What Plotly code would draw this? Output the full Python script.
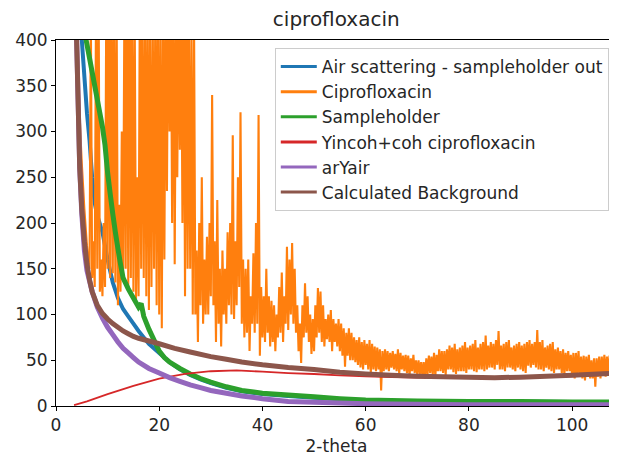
import numpy as np
import plotly.graph_objects as go

# measured ciprofloxacin pattern, 0.25 deg steps from 2-theta = 4.0 (one row = 5 deg)
cipro_start = 4.0
cipro_step = 0.25
cipro_y = [
    460, 390, 330, 295, 265, 240, 215, 195, 175, 160, 150, 430, 140, 180, 130, 440, 150, 460, 125, 160,
    120, 200, 130, 460, 150, 470, 140, 455, 145, 450, 135, 430, 110, 220, 125, 300, 140, 440, 150, 480,
    130, 470, 140, 450, 125, 430, 115, 250, 120, 470, 150, 440, 140, 430, 120, 460, 105, 430, 130, 420,
    150, 450, 110, 460, 100, 430, 85, 440, 160, 460, 235, 480, 300, 460, 200, 470, 155, 430, 250, 440,
    280, 460, 200, 470, 120, 490, 150, 430, 150, 410, 100, 420, 100, 170, 70, 200, 110, 250, 90, 160,
    100, 185, 100, 200, 120, 340, 110, 180, 70, 225, 90, 150, 65, 170, 100, 150, 90, 190, 110, 200,
    100, 296, 95, 180, 110, 250, 130, 321, 90, 160, 75, 150, 80, 160, 60, 120, 90, 167, 80, 200,
    90, 318, 55, 130, 75, 120, 70, 150, 80, 120, 65, 115, 70, 110, 60, 100, 75, 130, 80, 146,
    70, 120, 90, 174, 83, 160, 100, 178, 90, 150, 80, 110, 60, 90, 47, 110, 75, 134, 80, 120,
    70, 100, 57, 95, 60, 110, 75, 129, 80, 125, 70, 110, 65, 95, 73, 100, 70, 105, 60, 95,
    70, 90, 65, 95, 60, 90, 55, 85, 43, 80, 55, 85, 50, 80, 50, 75, 48, 72, 45, 75,
    42, 70, 40, 72, 45, 68, 40, 72, 36, 68, 40, 65, 38, 64, 40, 62, 17, 60, 38, 62,
    40, 60, 38, 58, 42, 60, 40, 57, 38, 62, 35, 58, 40, 55, 38, 56, 36, 55, 33, 52,
    38, 56, 36, 50, 34, 50, 35, 48, 32, 48, 30, 52, 35, 55, 36, 54, 34, 58, 32, 56,
    38, 62, 38, 60, 36, 60, 34, 62, 40, 66, 40, 64, 37, 68, 35, 62, 38, 64, 38, 66,
    38, 70, 36, 64, 40, 66, 40, 68, 38, 72, 37, 64, 40, 68, 40, 70, 38, 77, 40, 66,
    42, 70, 42, 68, 40, 72, 45, 82, 40, 66, 40, 68, 38, 70, 42, 72, 42, 64, 40, 66,
    38, 68, 42, 70, 40, 66, 38, 68, 36, 70, 44, 72, 42, 68, 45, 70, 42, 83, 40, 70,
    40, 72, 38, 64, 42, 66, 40, 68, 38, 70, 36, 62, 40, 64, 40, 60, 36, 62, 34, 58,
    38, 60, 38, 56, 32, 58, 30, 58, 34, 60, 32, 54, 30, 55, 28, 54, 32, 56, 30, 50,
    30, 52, 21, 52, 32, 54, 30, 54, 34, 56, 32, 54, 36, 55, 34, 56, 38, 58, 36, 54,
    40, 56, 38, 52, 55,
]
cipro_x = cipro_start + cipro_step * np.arange(len(cipro_y))

air_x = [4.8, 5.0, 5.5, 6.0, 6.5, 7.0, 7.5, 8.0, 9.0, 10, 11, 12, 13, 14, 15, 16, 17, 18,
         20, 22, 24, 26, 28, 30, 33, 36, 40, 45, 50, 60, 70, 80, 90, 100, 110]
air_y = [420, 400, 360, 320, 290, 250, 222, 208, 190, 160, 135, 118, 106, 98, 90, 82, 75, 68,
         58, 48, 40, 34, 29, 25, 20, 16, 13, 11, 9, 6, 5, 4.8, 4.6, 4.5, 4.5]

holder_x = [5.3, 5.5, 6.0, 7.0, 8.0, 9.0, 9.5, 10, 10.5, 11, 11.5, 12, 12.5, 13, 14, 15, 16, 16.5,
            17, 18, 19, 20, 21, 22, 24, 26, 28, 30, 33, 36, 40, 45, 50, 55, 60, 70, 80, 90, 100, 110]
holder_y = [420, 410, 395, 365, 335, 305, 285, 255, 232, 210, 190, 172, 155, 140, 128, 118, 108, 112,
            98, 84, 72, 60, 53, 48, 41, 35, 30, 26, 21, 17, 14, 12, 10, 8, 6.5, 5.5, 5, 4.8, 4.5, 4.5]

incoh_x = [3.5, 6, 10, 15, 20, 25, 30, 35, 40, 45, 50, 55, 60, 65, 70, 80, 90, 100, 110]
incoh_y = [1, 5, 13, 22, 30, 35, 38, 39, 37.5, 36, 35, 33.5, 32.5, 31.5, 31, 30.5, 31, 32.5, 35]

aryair_x = [3.9, 4.0, 4.3, 4.6, 5.0, 5.5, 6.0, 7.0, 8.0, 9.0, 10, 11, 12, 13, 14, 15, 16, 18,
            20, 22, 24, 26, 28, 30, 33, 36, 40, 45, 50, 60, 70, 80, 90, 100, 110]
aryair_y = [420, 400, 330, 260, 210, 170, 148, 125, 108, 96, 86, 78, 70, 63, 58, 53, 48, 41,
            36, 31, 27, 23, 20, 17, 14, 11, 8, 5, 4, 2.5, 2, 1.5, 1.5, 1.5, 1.5]

bkg_x = [3.9, 4.0, 4.3, 4.6, 5.0, 5.5, 6.0, 6.5, 7.0, 8.0, 9.0, 10, 11, 12, 13, 14, 15, 16, 18,
         20, 23, 26, 30, 33, 36, 40, 45, 50, 55, 60, 65, 70, 75, 80, 85, 90, 95, 100, 105, 110]
bkg_y = [420, 400, 330, 260, 215, 180, 155, 138, 125, 110, 101, 95, 90, 86, 82, 79, 76, 74, 71,
         68, 63, 59, 54, 51, 48, 45, 42, 40, 37, 35, 33.5, 32.5, 32, 31.5, 31, 31.5, 32.5, 33.5, 35, 36]

series = [
    ("Air scattering - sampleholder out", air_x, air_y, "#1f77b4", 4),
    ("Ciprofloxacin", cipro_x, cipro_y, "#ff7f0e", 2.1),
    ("Sampleholder", holder_x, holder_y, "#2ca02c", 5),
    ("Yincoh+coh ciprofloxacin", incoh_x, incoh_y, "#d62728", 1.8),
    ("arYair", aryair_x, aryair_y, "#9467bd", 5),
    ("Calculated Background", bkg_x, bkg_y, "#8c564b", 5),
]

fig = go.Figure()
for name, xs, ys, col, w in series:
    fig.add_trace(go.Scatter(x=xs, y=ys, mode="lines", name=name, showlegend=False,
                             line=dict(color=col, width=w, simplify=False)))
# legend entries with thin sample lines
for name, xs, ys, col, w in series:
    fig.add_trace(go.Scatter(x=[None], y=[None], mode="lines", name=name, legendgroup=name,
                             line=dict(color=col, width=3)))

# page body has an 8px margin, so the figure is 8px smaller than the window
fig.update_layout(
    width=609, height=448,
    margin=dict(l=48, r=0, t=32, b=50),
    paper_bgcolor="white", plot_bgcolor="white",
    font=dict(family="DejaVu Sans", size=17, color="#262626"),
    title=dict(text="ciprofloxacin", x=0.539, xanchor="center", y=0.975, yanchor="middle",
               font=dict(size=20, color="#262626")),
    legend=dict(x=0.39, y=0.978, xanchor="left", yanchor="top",
                bgcolor="rgba(255,255,255,0.85)", bordercolor="#cccccc", borderwidth=1,
                tracegroupgap=0, itemwidth=36, font=dict(size=17)),
)
fig.update_xaxes(range=[0, 108.7], dtick=20, showgrid=False, zeroline=False,
                 showline=True, linecolor="black", linewidth=1, mirror=True,
                 ticks="outside", ticklen=4, tickcolor="black",
                 title=dict(text="2-theta", standoff=6, font=dict(size=17)), automargin=False)
fig.update_yaxes(range=[0, 400], dtick=50, showgrid=False, zeroline=False,
                 showline=True, linecolor="black", linewidth=1,
                 ticks="outside", ticklen=4, tickcolor="black", automargin=False)

fig.write_html("out.html")
